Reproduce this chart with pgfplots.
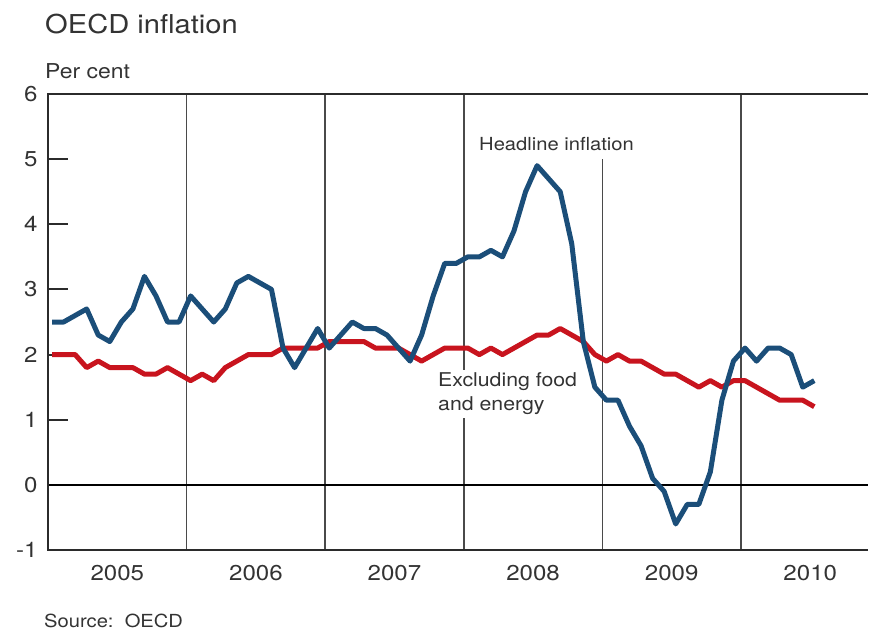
\documentclass[border=0pt]{standalone}
\usepackage{fontspec}
\setmainfont{TeX Gyre Heros}[FakeStretch=1.12]
\usepackage{pgfplots}
\pgfplotsset{compat=1.18}
\definecolor{hblue}{HTML}{1B4E79}
\definecolor{cred}{HTML}{C8141E}
\definecolor{txt}{HTML}{333333}
\definecolor{framec}{HTML}{2B2B2B}
\definecolor{gridc}{HTML}{4A4A4A}
\begin{document}
\begin{tikzpicture}[x=1pt,y=1pt]
\path[use as bounding box] (0,0) rectangle (870,-632);
\node[anchor=base west, inner sep=0, font=\fontsize{26}{30}\selectfont, text=txt] at (45,-33) {OECD inflation};
\node[anchor=base west, inner sep=0, font=\fontsize{20.5}{24}\selectfont, text=txt] at (45,-78) {Per cent};
\node[anchor=base west, inner sep=0, font=\fontsize{18}{20}\selectfont, text=txt] at (44,-627) {Source:\ \ OECD};
\begin{axis}[
 at={(48pt,-550pt)}, anchor=south west,
 width=820pt, height=456pt, scale only axis,
 xmin=-0.35, xmax=70.65, ymin=-1, ymax=6,
 axis line style={draw=none},
 ytick={-1,0,...,6},
 tick align=inside,
 ytick pos=left, xtick pos=bottom,
 major tick length=20pt,
 ytick style={line width=2pt, color=framec},
 xtick={5.65,17.65,29.65,41.65,53.65,65.65},
 xticklabels={2005,2006,2007,2008,2009,2010},
 xtick style={draw=none},
 /pgf/number format/assume math mode=true,
 tick label style={font=\fontsize{21.5}{25}\selectfont, text=txt},
 yticklabel style={xshift=-7pt},
 xticklabel style={yshift=-12pt},
 clip=false,
]
\foreach \yr in {11.65,23.65,35.65,59.65}{
  \edef\tmp{\noexpand\draw[gridc, line width=1.5pt] (axis cs:\yr,-1) -- (axis cs:\yr,6);}\tmp
}
\draw[gridc, line width=1.5pt] (axis cs:47.65,-1) -- (axis cs:47.65,5.0);
\draw[black, line width=1.3pt] (axis cs:-0.35,0) -- (axis cs:70.65,0);
\node[anchor=west, inner sep=0, font=\fontsize{18}{24}\selectfont, text=txt] at (axis cs:36.97,5.23) {Headline inflation};
\node[anchor=west, inner sep=3pt, fill=white, align=left, font=\fontsize{19}{24}\selectfont, text=txt] at (axis cs:33.16,1.40) {Excluding food\\and energy};
\addplot[cred, line width=5pt, line join=round] coordinates {
(0,2.0)(1,2.0)(2,2.0)(3,1.8)(4,1.9)(5,1.8)(6,1.8)(7,1.8)(8,1.7)(9,1.7)(10,1.8)(11,1.7)
(12,1.6)(13,1.7)(14,1.6)(15,1.8)(16,1.9)(17,2.0)(18,2.0)(19,2.0)(20,2.1)(21,2.1)(22,2.1)(23,2.1)
(24,2.2)(25,2.2)(26,2.2)(27,2.2)(28,2.1)(29,2.1)(30,2.1)(31,2.0)(32,1.9)(33,2.0)(34,2.1)(35,2.1)
(36,2.1)(37,2.0)(38,2.1)(39,2.0)(40,2.1)(41,2.2)(42,2.3)(43,2.3)(44,2.4)(45,2.3)(46,2.2)(47,2.0)
(48,1.9)(49,2.0)(50,1.9)(51,1.9)(52,1.8)(53,1.7)(54,1.7)(55,1.6)(56,1.5)(57,1.6)(58,1.5)(59,1.6)
(60,1.6)(61,1.5)(62,1.4)(63,1.3)(64,1.3)(65,1.3)(66,1.2)
};
\addplot[hblue, line width=5pt, line join=round] coordinates {
(0,2.5)(1,2.5)(2,2.6)(3,2.7)(4,2.3)(5,2.2)(6,2.5)(7,2.7)(8,3.2)(9,2.9)(10,2.5)(11,2.5)
(12,2.9)(13,2.7)(14,2.5)(15,2.7)(16,3.1)(17,3.2)(18,3.1)(19,3.0)(20,2.1)(21,1.8)(22,2.1)(23,2.4)
(24,2.1)(25,2.3)(26,2.5)(27,2.4)(28,2.4)(29,2.3)(30,2.1)(31,1.9)(32,2.3)(33,2.9)(34,3.4)(35,3.4)
(36,3.5)(37,3.5)(38,3.6)(39,3.5)(40,3.9)(41,4.5)(42,4.9)(43,4.7)(44,4.5)(45,3.7)(46,2.2)(47,1.5)
(48,1.3)(49,1.3)(50,0.9)(51,0.6)(52,0.1)(53,-0.1)(54,-0.6)(55,-0.3)(56,-0.3)(57,0.2)(58,1.3)(59,1.9)
(60,2.1)(61,1.9)(62,2.1)(63,2.1)(64,2.0)(65,1.5)(66,1.6)
};
\draw[framec, line width=2.5pt] (rel axis cs:1,1) -- (rel axis cs:0,1) -- (rel axis cs:0,0) -- (rel axis cs:1,0);
\end{axis}
\end{tikzpicture}
\end{document}
